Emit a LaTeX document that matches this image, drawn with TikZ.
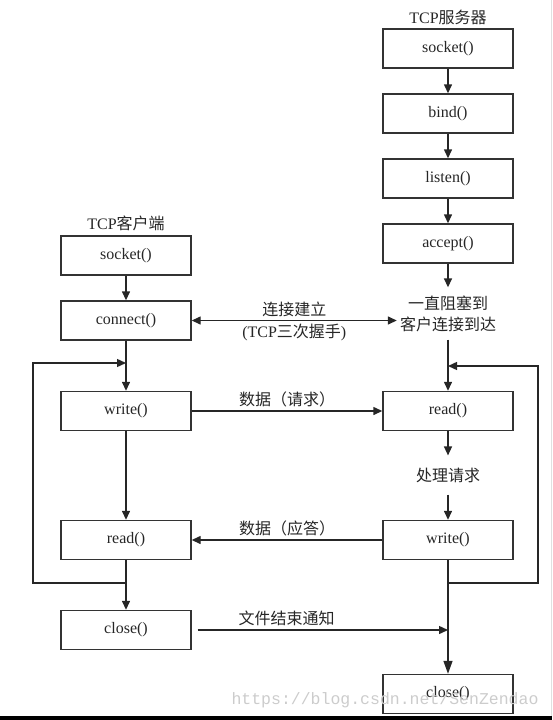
\documentclass[tikz,border=0pt]{standalone}
\usepackage{fontspec}
\setmainfont{Liberation Serif}
\setmonofont{Liberation Mono}
\newfontfamily\cjk{Noto Sans CJK SC}
\usetikzlibrary{arrows.meta}

\begin{document}
\begin{tikzpicture}[x = 1pt, y = -1pt, font = \fontsize{16}{21}\selectfont, text = black!85,
		box/.style = {draw = black!80, line width = 1.4pt, minimum width = 130pt, minimum height = 39pt, inner sep = 0pt},
		flow/.style = {draw = black!85, line width = 1.4pt, -{Triangle[length = 9pt, width = 8pt]}},
		zh/.style = {font = \cjk\fontsize{16}{21}\selectfont}]
			\useasboundingbox (0, 0) rectangle (552, 720);
			\fill[black] (0, 716) rectangle (552, 720);
			\draw[black!12] (551, 0) -- (551, 716);
			
			\node (cside) at (126, 223) {TCP{\cjk 客户端}};
			\node (sside) at (448, 17) {TCP{\cjk 服务器}};
			
			\foreach \n/\t/\y in {ssocket/socket()/48.5, sbind/bind()/113.5, slisten/listen()/178.5, saccept/accept()/243.5} {
				\node[box] (\n) at (448, \y) {\t};
			}
			\foreach \a/\b in {ssocket/sbind, sbind/slisten, slisten/saccept} {
				\draw[flow] (\a) -- (\b);
			}
			
			\foreach \n/\t/\y in {csocket/socket()/255.5, cconnect/connect()/320.5, cwrite/write()/411, cread/read()/540, cclose/close()/630} {
				\node[box] (\n) at (126, \y) {\t};
			}
			\foreach \a/\b in {csocket/cconnect, cconnect/cwrite, cwrite/cread, cread/cclose} {
				\draw[flow] (\a) -- (\b);
			}
			
			\node[zh, align = center, inner xsep = 3pt, inner ysep = 8pt] (wait) at (448, 313.5) {一直阻塞到\\客户连接到达};
			\node[box] (sread) at (448, 411) {read()};
			\node[zh, inner ysep = 12pt] (proc) at (448, 475) {处理请求};
			\node[box] (swrite) at (448, 540) {write()};
			\node[box] (sclose) at (448, 694) {close()};
			
			\draw[flow] (saccept) -- (wait);
			\draw[flow] (wait) -- (sread);
			\draw[flow] (sread) -- (proc);
			\draw[flow] (proc) -- (swrite);
			\draw[flow, -{Triangle[length = 13pt, width = 9pt]}] (swrite) -- (sclose);
			
			\coordinate (cjoin) at (126, 583);
			\coordinate (cloop) at (33, 363);
			\draw[flow] (cjoin) -| (cloop) -- (cloop -| cwrite);
			\coordinate (sjoin) at (448, 583);
			\coordinate (sloop) at (538, 366);
			\draw[flow] (sjoin) -| (sloop) -- (sloop -| sread);
			
			\draw[flow, {Triangle[length = 9pt, width = 8pt]}-{Triangle[length = 9pt, width = 8pt]}] (cconnect) -- (cconnect -| wait.west)
				node[midway, above, zh] {连接建立}
				node[midway, below] {(TCP{\cjk 三次握手})};
			\draw[flow] (cwrite) -- (sread) node[midway, above, zh] {数据（请求）};
			\draw[flow] (swrite) -- (cread) node[midway, above, zh] {数据（应答）};
			\draw[flow, shorten <= 6pt] (cclose.east) -- (cclose.east -| sclose) node[pos = 0.37, above, zh] {文件结束通知};
			
			\node[anchor = west, text = black!20, font = \ttfamily\fontsize{16.5}{20}\selectfont] (mark) at (228, 700) {https://blog.csdn.net/SenZendao};
		\end{tikzpicture}
\end{document}
